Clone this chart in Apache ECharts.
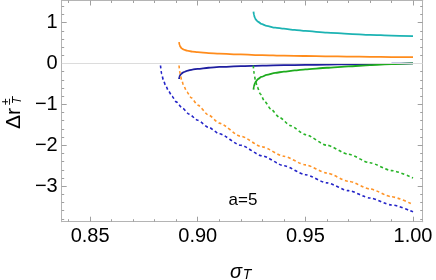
<!DOCTYPE html>
<html>
<head>
<meta charset="utf-8">
<script src="https://cdn.jsdelivr.net/npm/echarts@6/dist/echarts.min.js"></script>
<style>html,body{margin:0;padding:0;background:#fff}#c{width:436px;height:280px}</style>
</head>
<body>
<div id="c"></div>
<script>
// ---- data (sigma_T, Delta r_T^±) ----
const cyanX  = [0.9259,0.9261,0.9265,0.927,0.928,0.9295,0.932,0.936,0.94,0.945,0.95,0.96,0.97,0.98,0.99,1.0];
const cyanY  = [1.27,1.19,1.12,1.07,1.02,0.97,0.92,0.875,0.85,0.82,0.795,0.755,0.725,0.70,0.683,0.67];
const orangeX = [0.8913,0.8915,0.8919,0.8925,0.8935,0.895,0.8975,0.90,0.905,0.91,0.92,0.93,0.94,0.95,0.96,0.97,0.98,0.99,1.0];
const orangeY = [0.52,0.46,0.41,0.37,0.34,0.315,0.29,0.275,0.255,0.24,0.22,0.205,0.19,0.182,0.175,0.168,0.162,0.157,0.153];
const blueX = [0.8913,0.8915,0.8919,0.8925,0.8935,0.895,0.8975,0.90,0.905,0.91,0.92,0.93,0.94,0.95,0.96,0.97,0.98,0.99,1.0];
const blueY = [-0.38,-0.32,-0.28,-0.245,-0.21,-0.18,-0.15,-0.13,-0.105,-0.085,-0.065,-0.052,-0.043,-0.035,-0.027,-0.02,-0.013,-0.006,0];
const greenX = [0.9259,0.9261,0.9265,0.927,0.928,0.9295,0.932,0.936,0.94,0.945,0.95,0.96,0.97,0.98,0.99,1.0];
const greenY = [-0.64,-0.56,-0.49,-0.44,-0.38,-0.33,-0.28,-0.23,-0.20,-0.17,-0.145,-0.105,-0.07,-0.042,-0.018,0];
const blueDashX = [0.8827,0.8832,0.884,0.885,0.8865,0.888,0.89,0.893,0.896,0.90,0.905,0.91,0.92,0.93,0.94,0.95,0.96,0.97,0.98,0.99,1.0];
const blueDashY = [-0.05,-0.25,-0.40,-0.53,-0.68,-0.80,-0.94,-1.10,-1.24,-1.39,-1.56,-1.72,-2.00,-2.26,-2.50,-2.72,-2.92,-3.11,-3.29,-3.46,-3.63];
const orangeDashX = [0.8913,0.8918,0.8925,0.8935,0.895,0.897,0.90,0.905,0.91,0.92,0.93,0.94,0.95,0.96,0.97,0.98,0.99,1.0];
const orangeDashY = [-0.05,-0.25,-0.40,-0.55,-0.70,-0.84,-1.02,-1.26,-1.46,-1.78,-2.04,-2.27,-2.48,-2.68,-2.88,-3.07,-3.26,-3.45];
const greenDashX = [0.9258,0.9262,0.9268,0.9277,0.929,0.931,0.934,0.938,0.943,0.95,0.96,0.97,0.98,0.99,1.0];
const greenDashY = [-0.05,-0.25,-0.42,-0.58,-0.74,-0.92,-1.12,-1.32,-1.52,-1.74,-2.00,-2.22,-2.43,-2.62,-2.80];

const xMajor = [0.85,0.90,0.95,1.00];
const xMinor = [0.84,0.86,0.87,0.88,0.89,0.91,0.92,0.93,0.94,0.96,0.97,0.98,0.99];
const yMajor = [-3,-2,-1,0,1];
const yMinor = [-3.8,-3.6,-3.4,-3.2,-2.8,-2.6,-2.4,-2.2,-1.8,-1.6,-1.4,-1.2,-0.8,-0.6,-0.4,-0.2,0.2,0.4,0.6,0.8,1.2,1.4];
const X_MIN = 0.8368, X_MAX = 1.0045, Y_MIN = -3.87, Y_MAX = 1.54;
const annotation = 'a=5';

const pairs = (xs, ys) => xs.map((x, i) => [x, ys[i]]);
const FRAME = '#b4b4b4', TICK = '#a0a0a0';
const FONT = 'Liberation Sans';

function xAx(pos, ticks, len, labels) {
  return {
    type: 'value', min: X_MIN, max: X_MAX, position: pos,
    axisLine: { show: true, onZero: false, lineStyle: { color: FRAME, width: 1 } },
    axisTick: { show: true, inside: true, length: len, customValues: ticks, lineStyle: { color: TICK } },
    axisLabel: labels ? { show: true, customValues: ticks, formatter: v => v.toFixed(2), color: '#000', fontSize: 20, fontFamily: FONT, margin: 5 } : { show: false },
    splitLine: { show: false }
  };
}
function yAx(pos, ticks, len, labels) {
  return {
    type: 'value', min: Y_MIN, max: Y_MAX, position: pos,
    axisLine: { show: true, onZero: false, lineStyle: { color: FRAME, width: 1 } },
    axisTick: { show: true, inside: true, length: len, customValues: ticks, lineStyle: { color: TICK } },
    axisLabel: labels ? { show: true, customValues: ticks, formatter: v => (v < 0 ? '\u2212' + Math.abs(v) : String(v)), color: '#000', fontSize: 20, fontFamily: FONT, margin: 4 } : { show: false },
    splitLine: { show: false }
  };
}

function line(name, xs, ys, color, dashed) {
  return {
    name, type: 'line', data: pairs(xs, ys), showSymbol: false, z: 3,
    smooth: 0.25, smoothMonotone: 'x',
    lineStyle: { color, width: dashed ? 1.6 : 1.8, type: dashed ? [3, 2.6] : 'solid' },
    emphasis: { disabled: true }
  };
}

const chart = echarts.init(document.getElementById('c'), null, { renderer: 'canvas' });
chart.setOption({
  animation: false,
  grid: { left: 61.7, right: 13.3, top: 0.5, bottom: 58.3, containLabel: false },
  xAxis: [ xAx('bottom', xMajor, 5, true), xAx('bottom', xMinor, 2.5, false), xAx('top', xMajor, 5, false), xAx('top', xMinor, 2.5, false) ],
  yAxis: [ yAx('left', yMajor, 5, true), yAx('left', yMinor, 2.5, false), yAx('right', yMajor, 5, false), yAx('right', yMinor, 2.5, false) ],
  series: [
    { type: 'line', data: [], z: 1, silent: true,
      markLine: { silent: true, symbol: 'none', label: { show: false }, lineStyle: { color: '#dcdcdc', width: 1, type: 'solid' }, data: [{ yAxis: 0 }] } },
    line('cyan', cyanX, cyanY, '#1cb3b3', false),
    line('orange', orangeX, orangeY, '#ff8c1c', false),
    line('blue', blueX, blueY, '#1e1ea0', false),
    line('green', greenX, greenY, '#1eab1e', false),
    line('blueDash', blueDashX, blueDashY, '#2424c8', true),
    line('orangeDash', orangeDashX, orangeDashY, '#ff9428', true),
    line('greenDash', greenDashX, greenDashY, '#28b428', true)
  ],
  graphic: [
    { type: 'text', x: 243, y: 200, style: { text: annotation, font: '17px "Liberation Sans"', fill: '#000', align: 'center', verticalAlign: 'middle', textAlign: 'center', textVerticalAlign: 'middle' } },
    { type: 'text', x: 236, y: 272, style: { text: 'σ', font: 'italic 20px "Liberation Sans"', fill: '#000', align: 'center', verticalAlign: 'middle', textAlign: 'center', textVerticalAlign: 'middle' } },
    { type: 'text', x: 247, y: 275, style: { text: 'T', font: 'italic 14px "Liberation Sans"', fill: '#000', align: 'center', verticalAlign: 'middle', textAlign: 'center', textVerticalAlign: 'middle' } },
    { type: 'group', x: 14, y: 129, rotation: Math.PI / 2, children: [
      { type: 'text', x: 0, y: 0, style: { text: 'Δr', font: '21px "Liberation Sans"', fill: '#000', align: 'left', verticalAlign: 'middle', textAlign: 'left', textVerticalAlign: 'middle' } },
      { type: 'text', x: 25, y: 4, style: { text: 'T', font: 'italic 12px "Liberation Sans"', fill: '#000', align: 'left', verticalAlign: 'middle', textAlign: 'left', textVerticalAlign: 'middle' } },
      { type: 'text', x: 24, y: -7, style: { text: '±', font: '12px "Liberation Sans"', fill: '#000', align: 'left', verticalAlign: 'middle', textAlign: 'left', textVerticalAlign: 'middle' } }
    ] }
  ]
});
</script>
</body>
</html>
